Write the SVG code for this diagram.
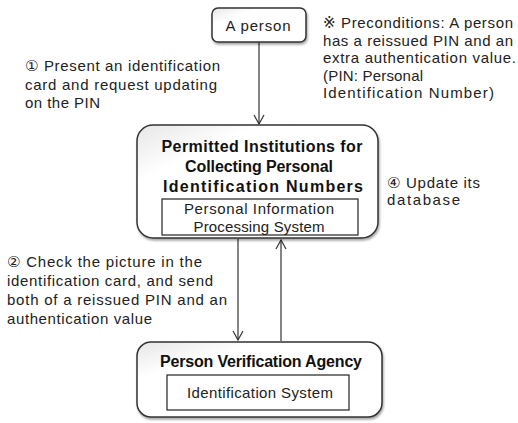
<svg xmlns="http://www.w3.org/2000/svg" width="518" height="423" viewBox="0 0 518 423">
<defs>
<linearGradient id="g" x1="0" y1="0" x2="1" y2="1">
<stop offset="0" stop-color="#e6e6e6"/>
<stop offset="0.25" stop-color="#ffffff"/>
<stop offset="1" stop-color="#ffffff"/>
</linearGradient>
<filter id="sh" x="-10%" y="-10%" width="120%" height="130%">
<feDropShadow dx="1" dy="2" stdDeviation="1.2" flood-color="#000" flood-opacity="0.35"/>
</filter>
<marker id="ah" markerWidth="12" markerHeight="12" refX="10" refY="6" orient="auto" markerUnits="userSpaceOnUse" viewBox="0 0 12 12">
<path d="M1,1 L10,6 L1,11" fill="none" stroke="#333" stroke-width="1.2"/>
</marker>
</defs>
<style>
.box{fill:url(#g);stroke:#333;stroke-width:1.5;filter:url(#sh)}
.inner{fill:#fff;stroke:#222;stroke-width:1.2}
.t{font-family:"Liberation Sans","DejaVu Sans",sans-serif;font-size:15px;fill:#222}
.b{font-family:"Liberation Sans","DejaVu Sans",sans-serif;font-size:16px;font-weight:bold;fill:#111}
.c{text-anchor:middle}
.ln{stroke:#333;stroke-width:1.2;fill:none}
</style>
<rect width="518" height="423" fill="#fff"/>
<g id="connectors">
<line class="ln" x1="259" y1="42" x2="259" y2="124" marker-end="url(#ah)"/>
<line class="ln" x1="238" y1="239" x2="238" y2="340" marker-end="url(#ah)"/>
<line class="ln" x1="281" y1="341" x2="281" y2="240" marker-end="url(#ah)"/>
</g>
<g id="person">
<rect class="box" x="212" y="8" width="94" height="34" rx="6"/>
<text class="t c" x="258" y="31" textLength="65" lengthAdjust="spacing">A person</text>
</g>
<g id="institutions">
<rect class="box" x="137" y="125" width="241" height="113" rx="16"/>
<text class="b c" x="262" y="152" textLength="201" lengthAdjust="spacing">Permitted Institutions for</text>
<text class="b c" x="259" y="172" textLength="148" lengthAdjust="spacing">Collecting Personal</text>
<text class="b c" x="263" y="192" textLength="200" lengthAdjust="spacing">Identification Numbers</text>
<rect class="inner" x="162" y="199" width="196" height="36"/>
<text class="t c" x="259" y="214" textLength="150" lengthAdjust="spacing">Personal Information</text>
<text class="t c" x="259" y="232" textLength="131" lengthAdjust="spacing">Processing System</text>
</g>
<g id="agency">
<rect class="box" x="137" y="342" width="245" height="75" rx="14"/>
<text class="b c" x="261" y="367" textLength="202" lengthAdjust="spacing">Person Verification Agency</text>
<rect class="inner" x="167" y="375" width="182" height="35"/>
<text class="t c" x="260" y="398" textLength="146" lengthAdjust="spacing">Identification System</text>
</g>
<g id="labels">
<text class="t" x="25" y="71" textLength="195" lengthAdjust="spacing">① Present an identification</text>
<text class="t" x="25" y="90" textLength="192" lengthAdjust="spacing">card and request updating</text>
<text class="t" x="25" y="108" textLength="75" lengthAdjust="spacing">on the PIN</text>
<text class="t" x="323" y="28" textLength="190" lengthAdjust="spacing">※ Preconditions: A person</text>
<text class="t" x="323" y="46" textLength="190" lengthAdjust="spacing">has a reissued PIN and an</text>
<text class="t" x="323" y="63" textLength="193" lengthAdjust="spacing">extra authentication value.</text>
<text class="t" x="323" y="81" textLength="100" lengthAdjust="spacing">(PIN: Personal</text>
<text class="t" x="323" y="98" textLength="171" lengthAdjust="spacing">Identification Number)</text>
<text class="t" x="387" y="188" textLength="93" lengthAdjust="spacing">④ Update its</text>
<text class="t" x="387" y="205" textLength="73" lengthAdjust="spacing">database</text>
<text class="t" x="7" y="267" textLength="195" lengthAdjust="spacing">② Check the picture in the</text>
<text class="t" x="7" y="286" textLength="206" lengthAdjust="spacing">identification card, and send</text>
<text class="t" x="7" y="305" textLength="220" lengthAdjust="spacing">both of a reissued PIN and an</text>
<text class="t" x="7" y="324" textLength="145" lengthAdjust="spacing">authentication value</text>
</g>
</svg>
